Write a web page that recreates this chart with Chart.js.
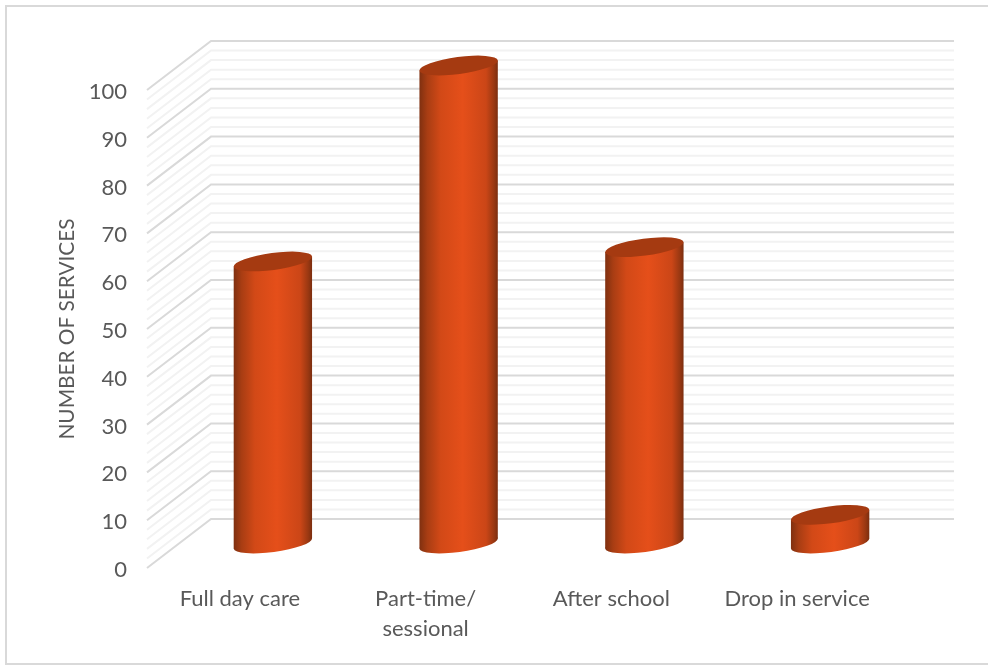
<!DOCTYPE html>
<html>
<head>
<meta charset="utf-8">
<title>Number of services</title>
<script src="https://cdn.jsdelivr.net/npm/chart.js@4"></script>
<style>
  html, body { margin: 0; padding: 0; background: #fff; }
  #wrap { width: 988px; height: 666px; }
</style>
</head>
<body>
<div id="wrap"><canvas id="services" width="988" height="666"></canvas></div>
<script>
var categories = ["Full day care", ["Part-time/", "sessional"], "After school", "Drop in service"]
var serviceCounts = [59, 100, 62, 6]
var axisTitle = "NUMBER OF SERVICES"

var depthX = 64, depthY = 49        // how far the back wall sits from the front plane
var radiusX = 39.5, radiusY = 8.5, tilt = -7.5 * Math.PI / 180

// frame around the chart: top, left and bottom only
var framePlugin = {
  id: 'frame',
  beforeDraw(chart) {
    var c = chart.ctx
    c.save()
    c.strokeStyle = '#d9d9d9'
    c.lineWidth = 2
    c.beginPath()
    c.moveTo(988, 6)
    c.lineTo(6, 6)
    c.lineTo(6, 664)
    c.lineTo(988, 664)
    c.stroke()
    c.restore()
  }
}

// side wall and back wall lines, one for every tick of the value axis
var wallPlugin = {
  id: 'wall',
  beforeDatasetsDraw(chart) {
    var c = chart.ctx, y = chart.scales.y, area = chart.chartArea
    c.save()
    y.ticks.forEach(function (t) {
      if (t.value % 10 == 0) return
      drawWallLine(c, area, y.getPixelForValue(t.value), '#f2f2f2')
    })
    y.ticks.forEach(function (t) {
      if (t.value % 10 != 0) return
      drawWallLine(c, area, y.getPixelForValue(t.value), '#d9d9d9')
    })
    c.restore()
  }
}

function drawWallLine(c, area, py, color) {
  c.strokeStyle = color
  c.lineWidth = 2
  c.beginPath()
  c.moveTo(area.left, py)
  c.lineTo(area.left + depthX, py - depthY)
  c.lineTo(area.right + depthX, py - depthY)
  c.stroke()
}

// leftmost and rightmost points of the tilted ellipse
function sidePoint(cx, cy, sign) {
  var t = Math.atan2(-radiusY * Math.sin(tilt), radiusX * Math.cos(tilt))
  var px = radiusX * Math.cos(t) * Math.cos(tilt) - radiusY * Math.sin(t) * Math.sin(tilt)
  var py = radiusX * Math.cos(t) * Math.sin(tilt) + radiusY * Math.sin(t) * Math.cos(tilt)
  return { x: cx + sign * px, y: cy + sign * py }
}

// turns the bar elements into cylinders standing halfway into the depth
var cylinderPlugin = {
  id: 'cylinder',
  afterDatasetsDraw(chart) {
    var c = chart.ctx
    chart.getDatasetMeta(0).data.forEach(function (bar) {
      var cx = bar.x + depthX / 2 + 1
      var top = bar.y - depthY / 2
      var bottom = bar.base - depthY / 2

      var tl = sidePoint(cx, top, -1), tr = sidePoint(cx, top, 1)
      var bl = sidePoint(cx, bottom, -1), br = sidePoint(cx, bottom, 1)

      var g = c.createLinearGradient(tl.x, 0, tr.x, 0)
      g.addColorStop(0, '#7f3010')
      g.addColorStop(0.1, '#a83d13')
      g.addColorStop(0.27, '#d24917')
      g.addColorStop(0.55, '#e54f1a')
      g.addColorStop(0.85, '#cb4617')
      g.addColorStop(0.95, '#9a3812')
      g.addColorStop(1, '#7b2e0f')

      c.save()
      c.fillStyle = g
      c.beginPath()
      c.moveTo(tl.x, tl.y)
      c.lineTo(tr.x, tr.y)
      c.lineTo(br.x, br.y)
      c.lineTo(bl.x, bl.y)
      c.closePath()
      c.fill()
      c.beginPath()
      c.ellipse(cx, bottom, radiusX, radiusY, tilt, 0, Math.PI * 2)
      c.fill()

      c.fillStyle = '#a53a11'
      c.beginPath()
      c.ellipse(cx, top, radiusX, radiusY, tilt, 0, Math.PI * 2)
      c.fill()
      c.restore()
    })
  }
}

new Chart(document.getElementById('services'), {
  type: 'bar',
  data: {
    labels: categories,
    datasets: [{
      data: serviceCounts,
      backgroundColor: 'rgba(0,0,0,0)',
      barThickness: 79
    }]
  },
  options: {
    responsive: false,
    animation: false,
    layout: { padding: { top: 90, right: 98, left: 0, bottom: 0 } },
    plugins: { legend: { display: false }, tooltip: { enabled: false } },
    scales: {
      x: {
        grid: { display: false },
        border: { display: false },
        afterFit(scale) { scale.height = 98 },
        ticks: {
          autoSkip: false,
          maxRotation: 0,
          padding: 8,
          color: '#595959',
          font: { family: 'Lato', size: 22, lineHeight: 1.364 }
        }
      },
      y: {
        min: 0,
        max: 100,
        grid: { display: false },
        border: { display: false },
        afterFit(scale) { scale.width = 147 },
        title: {
          display: true,
          text: axisTitle,
          color: '#595959',
          padding: { top: 55, bottom: 0 },
          font: { family: 'Lato', size: 20.8 }
        },
        ticks: {
          stepSize: 2,
          autoSkip: false,
          padding: 12,
          labelOffset: 2,
          color: '#595959',
          font: { family: 'Lato', size: 22 },
          callback(v) { return v % 10 == 0 ? v : '' }
        }
      }
    }
  },
  plugins: [framePlugin, wallPlugin, cylinderPlugin]
})
</script>
</body>
</html>
